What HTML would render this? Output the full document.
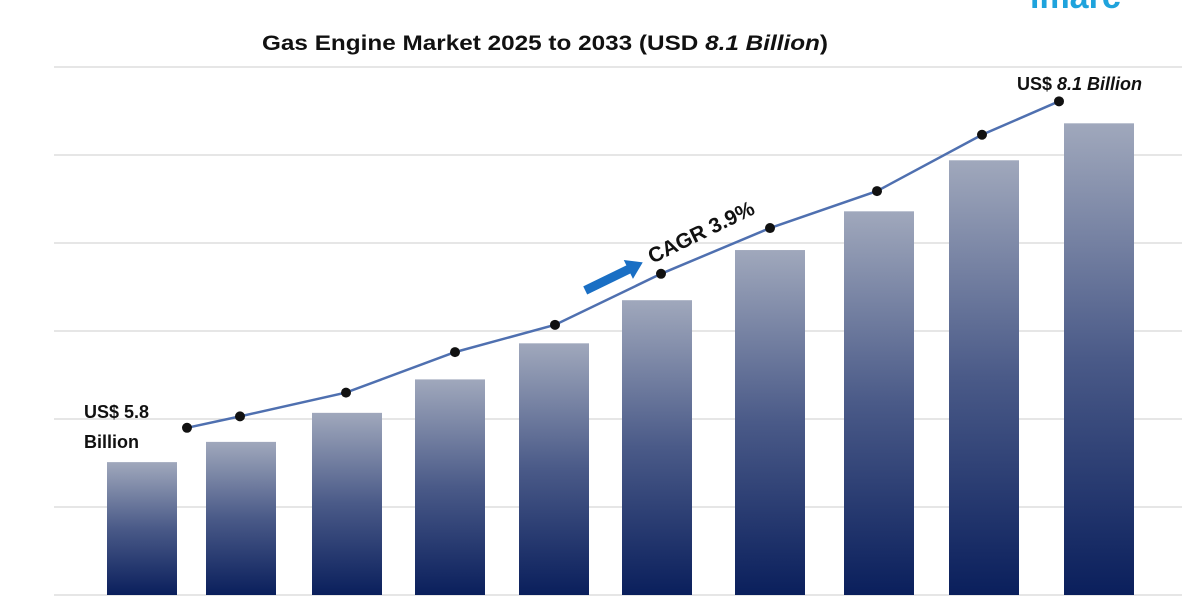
<!DOCTYPE html>
<html><head><meta charset="utf-8"><style>
body{margin:0;background:#fff;width:1200px;height:600px;overflow:hidden;font-family:"Liberation Sans",sans-serif}
</style></head><body>
<svg id="chart" width="1200" height="600" xmlns="http://www.w3.org/2000/svg">
<defs>
<linearGradient id="bg" x1="0" y1="0" x2="0" y2="1">
<stop offset="0" stop-color="#a0a8bc"/><stop offset="0.5" stop-color="#4a5a88"/><stop offset="1" stop-color="#0a1f5c"/>
</linearGradient>
</defs>
<text x="1030" y="8" font-size="34" font-weight="bold" fill="#1fa3dc">imarc</text>
<text x="545" y="50" text-anchor="middle" font-size="21" font-weight="bold" fill="#111" textLength="566" lengthAdjust="spacingAndGlyphs">Gas Engine Market 2025 to 2033 (USD <tspan font-style="italic">8.1 Billion</tspan>)</text>
<g id="grid"></g><g id="bars"></g><g id="line"></g>
<text x="84" y="418" font-size="18" font-weight="bold" fill="#111">US$ 5.8</text>
<text x="84" y="448" font-size="18" font-weight="bold" fill="#111">Billion</text>
<text x="1017" y="90" font-size="18" font-weight="bold" fill="#111">US$ <tspan font-style="italic">8.1 Billion</tspan></text>
<g transform="translate(585,290) rotate(-26)">
<rect x="0" y="-4" width="50" height="9" fill="#1a6fc4"/>
<polygon points="48,-10 64,0.5 48,11" fill="#1a6fc4"/>
<text x="72" y="6" font-size="21" font-weight="bold" fill="#111">CAGR 3.9%</text>
</g>
</svg>
<script>
const years=["2025","2026","2027","2028","2029","2030","2031","2032","2033","2034"];
const barValues=[1.51,1.74,2.07,2.45,2.86,3.35,3.92,4.36,4.94,5.36];
const lineValues=[1.90,2.03,2.30,2.76,3.07,3.65,4.17,4.59,5.23,5.61];
const gridTicks=[0,1,2,3,4,5,6];
const barX=[107,206,312,415,519,622,735,844,949,1064];
const lineX=[187,240,346,455,555,661,770,877,982,1059];
const NS="http://www.w3.org/2000/svg";
const y=v=>595-v*88;
const g=document.getElementById('grid');
gridTicks.forEach(t=>{const l=document.createElementNS(NS,'line');


l.setAttribute('x1',54);l.setAttribute('x2',1182);l.setAttribute('y1',y(t));l.setAttribute('y2',y(t));l.setAttribute('stroke','#d8d8d8');l.setAttribute('stroke-width',1.2);g.appendChild(l);});
const b=document.getElementById('bars');
barValues.forEach((v,i)=>{const r=document.createElementNS(NS,'rect');


r.setAttribute('x',barX[i]);r.setAttribute('width',70);r.setAttribute('y',y(v));r.setAttribute('height',595-y(v));r.setAttribute('fill','url(#bg)');b.appendChild(r);});
const lg=document.getElementById('line');
const p=document.createElementNS(NS,'polyline');


p.setAttribute('points',lineValues.map((v,i)=>lineX[i]+','+y(v)).join(' '));
p.setAttribute('fill','none');p.setAttribute('stroke','#4f70b0');p.setAttribute('stroke-width',2.5);lg.appendChild(p);
lineValues.forEach((v,i)=>{const c=document.createElementNS(NS,'circle');


c.setAttribute('cx',lineX[i]);c.setAttribute('cy',y(v));c.setAttribute('r',5);c.setAttribute('fill','#111');lg.appendChild(c);});
</script>
</body></html>
